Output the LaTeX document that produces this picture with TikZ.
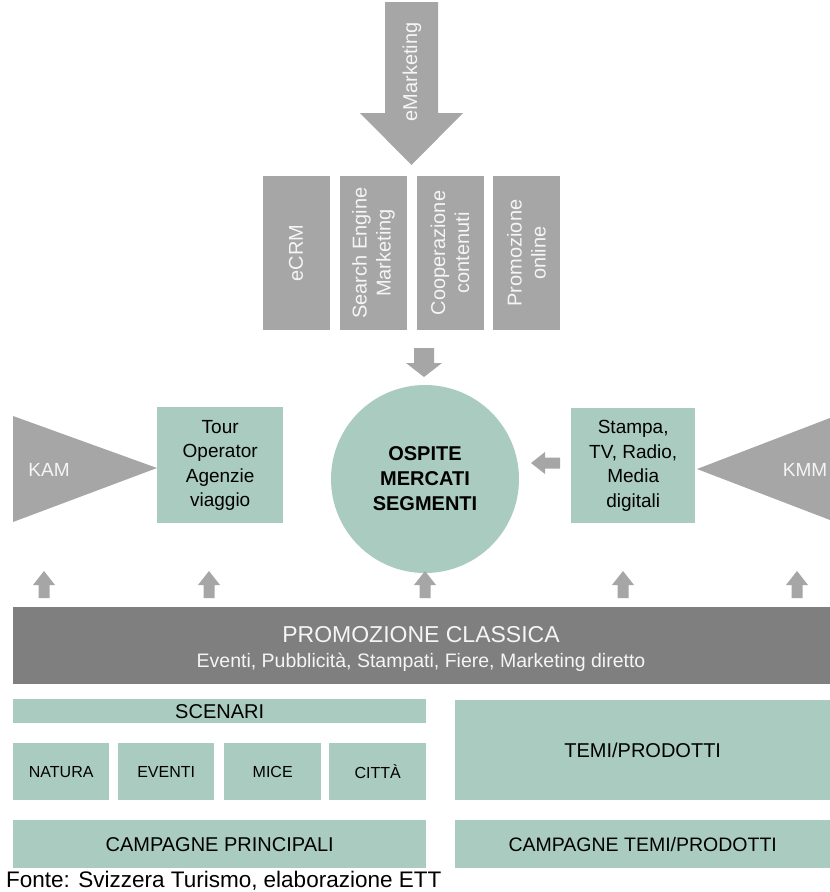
\documentclass[tikz,border=0pt]{standalone}
\usepackage{fontspec}
\setmainfont{Liberation Sans}
\begin{document}
\begin{tikzpicture}[x=1pt,y=-1pt]
\definecolor{sage}{RGB}{170,203,192}
\definecolor{midgrey}{RGB}{166,166,166}
\definecolor{darkbar}{RGB}{127,127,127}
\definecolor{paletext}{RGB}{245,245,245}
\tikzset{
  greybox/.style={fill=midgrey, draw=none, inner sep=0pt, rotate=90, minimum width=154pt, minimum height=67pt, text=paletext, align=center, font=\fontsize{20}{24}\selectfont},
  sagebox/.style={fill=sage, draw=none, inner sep=0pt, text=black, align=center, anchor=north west},
  blockarrow/.style={fill=midgrey, draw=none},
  midtext/.style={font=\fontsize{19}{24.5}\selectfont},
  whitetext/.style={text=paletext, inner sep=0pt},
}
\useasboundingbox (0,0) rectangle (830,892);
\fill[white] (0,0) rectangle (830,892);

% eMarketing arrow
\fill[blockarrow] (385,2) -- (438,2) -- (438,113) -- (463,113) -- (411.5,165) -- (360,113) -- (385,113) -- cycle;
\node[whitetext, rotate=90, font=\fontsize{20}{24}\selectfont] (emk) at (412,72) {eMarketing};

% grey boxes
\node[greybox] (ecrm) at (296,253) {eCRM};
\node[greybox] (sem) at (373.5,253) {Search Engine\\Marketing};
\node[greybox] (coop) at (450,253) {Cooperazione\\contenuti};
\node[greybox] (promo) at (526.5,253) {Promozione\\online};

% down arrow
\fill[blockarrow] (414,348) -- (434,348) -- (434,363) -- (442,363) -- (424,377) -- (406,363) -- (414,363) -- cycle;

% circle
\node[circle, fill=sage, draw=none, minimum size=188pt, inner sep=0pt, align=center, font=\bfseries\fontsize{20}{25}\selectfont] (ospite) at (425,479) {OSPITE\\MERCATI\\SEGMENTI};

% KAM triangle and Tour box
\fill[blockarrow] (13,416) -- (157,468) -- (13,522) -- cycle;
\node[whitetext, font=\fontsize{19}{24}\selectfont] (kam) at (49,470) {KAM};
\node[sagebox, midtext, minimum width=126pt, minimum height=116pt] (tour) at (157,407) {Tour\\Operator\\Agenzie\\viaggio};

% Stampa box and KMM
\node[sagebox, midtext, minimum width=124pt, minimum height=115pt] (stampa) at (571,408) {Stampa,\\TV, Radio,\\Media\\digitali};
\fill[blockarrow] (697,469) -- (830,418) -- (830,520) -- cycle;
\node[whitetext, font=\fontsize{19}{24}\selectfont] (kmm) at (805,470) {KMM};

% left arrow
\fill[blockarrow] (531,463) -- (545,452) -- (545,457.5) -- (560,457.5) -- (560,468.5) -- (545,468.5) -- (545,474) -- cycle;

% up arrows
\foreach \cx in {44,209,425,623,797}{
  \fill[blockarrow] (\cx,571) -- (\cx+11,585) -- (\cx+5.5,585) -- (\cx+5.5,598) -- (\cx-5.5,598) -- (\cx-5.5,585) -- (\cx-11,585) -- cycle;
}

% promozione classica
\node[fill=darkbar, draw=none, inner sep=0pt, anchor=north west, minimum width=817pt, minimum height=77pt] (classica) at (13,607) {};
\node[whitetext, font=\fontsize{23}{26}\selectfont] (classicatitle) at (421,635) {PROMOZIONE CLASSICA};
\node[whitetext, font=\fontsize{19.5}{24}\selectfont] (classicasub) at (421,662) {Eventi, Pubblicità, Stampati, Fiere, Marketing diretto};

% scenari
\node[sagebox, minimum width=413pt, minimum height=24pt, font=\fontsize{20}{24}\selectfont] (scenari) at (13,699) {SCENARI};
\node[sagebox, minimum width=96pt, minimum height=57pt, font=\fontsize{16}{20}\selectfont] (natura) at (13,743) {NATURA};
\node[sagebox, minimum width=96pt, minimum height=57pt, font=\fontsize{16}{20}\selectfont] (eventi) at (118,743) {EVENTI};
\node[sagebox, minimum width=97pt, minimum height=57pt, font=\fontsize{16}{20}\selectfont] (mice) at (224,743) {MICE};
\node[sagebox, minimum width=97pt, minimum height=57pt, font=\fontsize{16}{20}\selectfont] (citta) at (329,743) {CITTÀ};
\node[sagebox, minimum width=413pt, minimum height=48pt, font=\fontsize{20}{24}\selectfont] (campagne) at (13,820) {CAMPAGNE PRINCIPALI};

% temi
\node[sagebox, minimum width=375pt, minimum height=100pt, font=\fontsize{20}{24}\selectfont] (temi) at (455,700) {TEMI/PRODOTTI};
\node[sagebox, minimum width=375pt, minimum height=48pt, font=\fontsize{19.5}{24}\selectfont] (campagnetemi) at (455,820) {CAMPAGNE TEMI/PRODOTTI};

% source
\node[anchor=base west, inner sep=0pt, font=\fontsize{22.5}{26}\selectfont] (fonte) at (6,887) {Fonte: Svizzera Turismo, elaborazione ETT};
\end{tikzpicture}
\end{document}
